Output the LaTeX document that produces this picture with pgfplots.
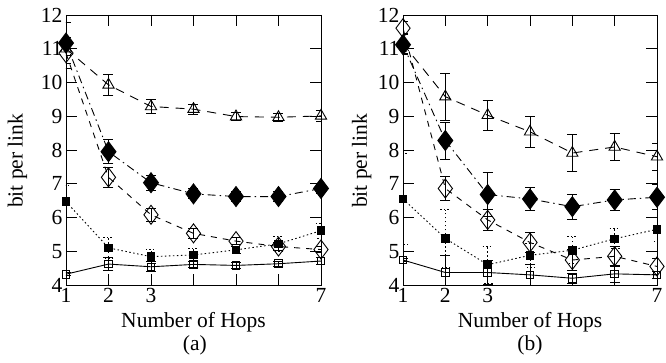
\documentclass[border=0pt]{standalone}
\usepackage{fontspec}
\setmainfont{Liberation Serif}
\usepackage{pgfplots}
\pgfplotsset{compat=1.18}
\usepackage{pgfplotstable}

% ---- panel (a) ----
\pgfplotstableread{
x y e
1 11.00 0.20
2 9.93 0.32
3 9.29 0.20
4 9.21 0.15
5 8.99 0.12
6 8.97 0.12
7 9.01 0.15
}\aTri
\pgfplotstableread{
x y e
1 11.17 0.60
2 7.95 0.35
3 7.03 0.22
4 6.70 0.15
5 6.62 0.15
6 6.62 0.15
7 6.86 0.15
}\aFD
\pgfplotstableread{
x y e
1 10.87 0.45
2 7.19 0.30
3 6.08 0.20
4 5.53 0.15
5 5.30 0.10
6 5.14 0.12
7 5.05 0.10
}\aOD
\pgfplotstableread{
x y e
1 6.47 0.48
2 5.10 0.30
3 4.84 0.20
4 4.89 0.18
5 5.04 0.10
6 5.22 0.22
7 5.61 0.22
}\aFS
\pgfplotstableread{
x y e
1 4.32 0.05
2 4.62 0.20
3 4.54 0.15
4 4.61 0.10
5 4.58 0.08
6 4.63 0.08
7 4.71 0.10
}\aOS

% ---- panel (b) ----
\pgfplotstableread{
x y e
1 11.15 0.30
2 9.58 0.70
3 9.03 0.45
4 8.54 0.45
5 7.91 0.55
6 8.09 0.40
7 7.80 0.40
}\bTri
\pgfplotstableread{
x y e
1 11.12 0.30
2 8.28 0.55
3 6.68 0.65
4 6.55 0.33
5 6.32 0.37
6 6.52 0.30
7 6.60 0.37
}\bFD
\pgfplotstableread{
x y e
1 11.61 0.20
2 6.86 0.35
3 5.93 0.30
4 5.26 0.30
5 4.74 0.30
6 4.85 0.30
7 4.55 0.25
}\bOD
\pgfplotstableread{
x y e
1 6.55 1.35
2 5.38 0.85
3 4.60 0.55
4 4.88 0.35
5 5.03 0.40
6 5.37 0.30
7 5.65 0.35
}\bFS
\pgfplotstableread{
x y e
1 4.74 0.05
2 4.37 0.50
3 4.37 0.35
4 4.30 0.30
5 4.20 0.15
6 4.33 0.25
7 4.30 0.10
}\bOS

\pgfplotsset{
  myaxis/.style={
    scale only axis, width=255pt, height=270pt,
    xmin=1, xmax=7, ymin=4, ymax=12,
    xtick={1,...,7}, xticklabels={1,2,3,,,,7},
    ytick={4,...,12},
    tick align=inside, major tick length=11pt,
    tick style={black, line width=0.8pt},
    axis line style={line width=0.8pt},
    font=\fontsize{21.5}{25}\selectfont,
    /pgf/number format/assume math mode=true,
    xlabel={Number of Hops}, ylabel={bit per link},
    x label style={at={(axis description cs:0.5,-0.137)}, anchor=center},
    clip mode=individual,
    every axis plot/.append style={line width=0.9pt, black},
    error bars/y dir=both, error bars/y explicit,
    error bars/error mark=|,
    error bars/error mark options={black, solid, mark size=5pt, line width=0.9pt},
    error bars/error bar style={solid, line width=0.9pt},
  },
  sTri/.style={dash pattern=on 9pt off 7pt, mark=triangle, mark size=6.5pt, mark options={solid}},
  sFD/.style={dash pattern=on 8pt off 4pt on 1.5pt off 4pt, mark=diamond*, mark size=10pt, mark options={solid, fill=black}},
  sOD/.style={dash pattern=on 6pt off 6pt, mark=diamond, mark size=9.5pt, mark options={solid}},
  sFS/.style={dash pattern=on 1.5pt off 2.5pt, mark=square*, mark size=3.8pt, mark options={solid, fill=black},
     error bars/error bar style={dash pattern=on 1.5pt off 2.5pt}, error bars/error mark options={black, mark size=5pt, line width=0.9pt, dash pattern=on 1.5pt off 2pt}},
  sOS/.style={solid, mark=square, mark size=3.8pt},
}

\begin{document}
\begin{tikzpicture}
\begin{axis}[myaxis, name=a, at={(0pt,0pt)}, anchor=south west,
  y label style={at={(axis description cs:-0.19,0.46)}, anchor=center}]
  \addplot[sTri] table[x=x, y=y, y error=e] {\aTri};
  \addplot[sOD] table[x=x, y=y, y error=e] {\aOD};
  \addplot[sFD] table[x=x, y=y, y error=e] {\aFD};
  \addplot[sFS] table[x=x, y=y, y error=e] {\aFS};
  \addplot[sOS] table[x=x, y=y, y error=e] {\aOS};
  \node[font=\fontsize{21.5}{25}\selectfont] at (axis description cs:0.505,-0.222) {(a)};
\end{axis}
\begin{axis}[myaxis, name=b, at={(337pt,0pt)}, anchor=south west, width=254pt,
  y label style={at={(axis description cs:-0.163,0.46)}, anchor=center}]
  \addplot[sTri] table[x=x, y=y, y error=e] {\bTri};
  \addplot[sOD] table[x=x, y=y, y error=e] {\bOD};
  \addplot[sFD] table[x=x, y=y, y error=e] {\bFD};
  \addplot[sFS] table[x=x, y=y, y error=e] {\bFS};
  \addplot[sOS] table[x=x, y=y, y error=e] {\bOS};
  \node[font=\fontsize{21.5}{25}\selectfont] at (axis description cs:0.5,-0.222) {(b)};
\end{axis}
\pgfresetboundingbox
\path (-66pt,-78pt) rectangle (600pt,285pt);
\end{tikzpicture}
\end{document}
